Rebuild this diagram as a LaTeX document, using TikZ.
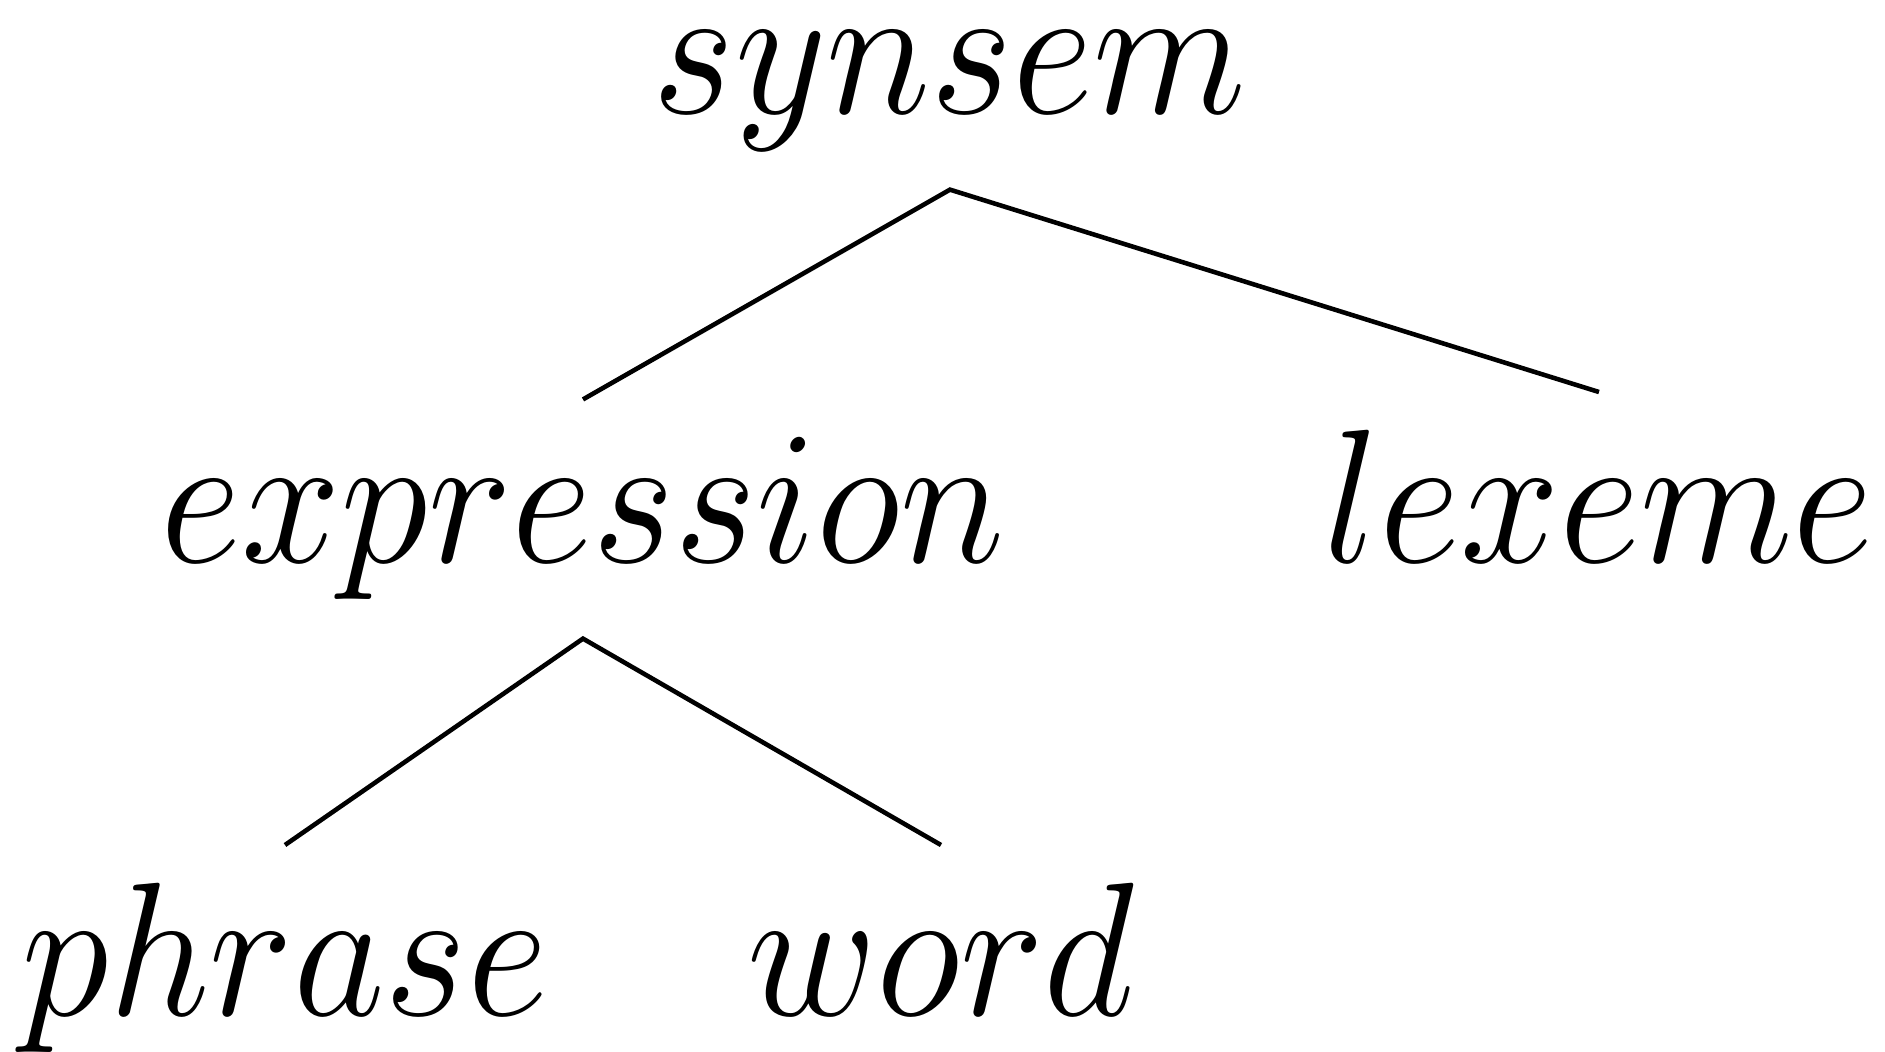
\documentclass[tikz,border=0pt]{standalone}
\usepackage{amsmath,amssymb}
\usepackage{tikz}
\usetikzlibrary{positioning}

\begin{document}
\begin{tikzpicture}[
      cat/.style={anchor=base, inner xsep=0pt, inner ysep=1.7mm,
                  font=\Huge, xscale=1.02, yscale=1.09, transform shape},
      branch/.style={line width=0.65pt}
    ]
    \useasboundingbox (0,0) rectangle (9.425,-5.26);
    \node[cat] (synsem) at (4.75,-0.57) {$synsem$};
    \node[cat] (expr) at (2.915,-2.815) {$expression$};
    \node[cat] (lexeme) at (7.995,-2.815) {$lexeme$};
    \node[cat] (phrase) at (1.425,-5.08) {$phrase$};
    \node[cat] (word) at (4.705,-5.08) {$word$};

    \draw[branch] (expr.north) -- (synsem.south) -- (lexeme.north);
    \draw[branch] (phrase.north) -- (expr.south) -- (word.north);
\end{tikzpicture}
\end{document}
